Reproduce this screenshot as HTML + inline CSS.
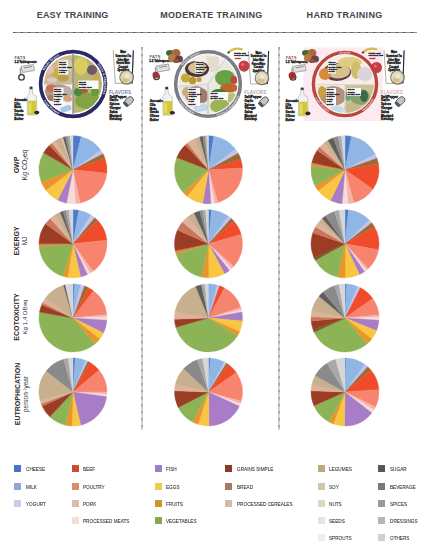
<!DOCTYPE html>
<html><head><meta charset="utf-8">
<style>
html,body{margin:0;padding:0;background:#fff;}
body{width:428px;height:550px;position:relative;overflow:hidden;font-family:"Liberation Sans",sans-serif;}
.hd{position:absolute;top:10px;font-weight:bold;font-size:9px;color:#45454f;letter-spacing:0px;white-space:nowrap;}
.sq{position:absolute;width:7px;height:7px;}
.lt{position:absolute;font-size:5.5px;color:#3a3a3a;white-space:nowrap;line-height:5.5px;transform-origin:0 0;transform:scaleX(0.85);-webkit-text-stroke:0.1px #3a3a3a}
.rl{position:absolute;white-space:nowrap;transform:translate(-50%,-50%) rotate(-90deg);line-height:1;color:#2a2a2a}
.rb{font-weight:bold;font-size:7px;}
.rs{font-size:6.5px;color:#333}
svg{position:absolute;left:0;top:0;}
</style></head><body>
<div class="hd" style="left:36.8px;letter-spacing:0.1px">EASY TRAINING</div>
<div class="hd" style="left:160.2px;letter-spacing:0.33px">MODERATE TRAINING</div>
<div class="hd" style="left:306.6px;letter-spacing:0.3px">HARD TRAINING</div>
<svg width="428" height="550" viewBox="0 0 428 550">
<line x1="13" y1="32.5" x2="417" y2="32.5" stroke="#8e8e8e" stroke-width="1"/><line x1="13" y1="32.5" x2="417" y2="32.5" stroke="#5a5a5a" stroke-width="1" stroke-dasharray="2.5,5"/>
<line x1="142" y1="47" x2="142" y2="430" stroke="#a6a6a6" stroke-width="1"/><line x1="142" y1="47" x2="142" y2="430" stroke="#808080" stroke-width="1" stroke-dasharray="2.5,4.5"/>
<line x1="279" y1="47" x2="279" y2="430" stroke="#a6a6a6" stroke-width="1"/><line x1="279" y1="47" x2="279" y2="430" stroke="#808080" stroke-width="1" stroke-dasharray="2.5,4.5"/>
<rect x="303.5" y="47.5" width="79" height="73.5" fill="#fceaf0"/><defs><clipPath id="pe"><circle cx="73" cy="84" r="29.3"/></clipPath><filter id="bl" x="-20%" y="-20%" width="140%" height="140%"><feGaussianBlur stdDeviation="0.6"/></filter></defs><circle cx="73" cy="84" r="32.4" fill="#fff" stroke="#2a2964" stroke-width="3.7"/><g clip-path="url(#pe)"><g filter="url(#bl)"><path d="M73,84 L44,84 A29,29 0 0 1 73,55 Z" fill="#cdb98c"/><ellipse cx="65" cy="66" rx="8" ry="7" fill="#d9c9a2"/><ellipse cx="57" cy="73" rx="6" ry="5" fill="#c4b248"/><ellipse cx="50" cy="70" rx="4" ry="4" fill="#e6bcb8"/><ellipse cx="63" cy="78" rx="6" ry="3.5" fill="#b8a04a"/><ellipse cx="52" cy="80" rx="5" ry="2.5" fill="#dcc8cc"/><path d="M73,84 L44,84 A29,29 0 0 0 73,113 Z" fill="#f4f2f4"/><ellipse cx="58" cy="93" rx="14" ry="9" fill="#b09a86"/><ellipse cx="51" cy="88" rx="5" ry="4" fill="#c8704c"/><ellipse cx="67" cy="92" rx="5" ry="6" fill="#c0b0a4"/><ellipse cx="68" cy="99" rx="4" ry="3" fill="#e0a080"/><ellipse cx="51" cy="98" rx="4" ry="3" fill="#9a8064"/><path d="M73,55 A29,29 0 0 1 73,113 Z" fill="#b8b670"/><ellipse cx="81" cy="66" rx="7" ry="9" fill="#d8cc62"/><ellipse cx="92" cy="70" rx="5" ry="5" fill="#705868"/><ellipse cx="96" cy="80" rx="4" ry="6" fill="#c8a860"/><ellipse cx="83" cy="91" rx="5" ry="3" fill="#b85a40"/><ellipse cx="88" cy="101" rx="13" ry="8" fill="#82a444"/><ellipse cx="78" cy="92" rx="4" ry="4" fill="#4a8a40"/><ellipse cx="95" cy="92" rx="4" ry="4" fill="#6a9a3a"/></g></g><line x1="73" y1="53" x2="73" y2="115" stroke="#8a8aa4" stroke-width="1.3"/><line x1="44" y1="84" x2="73" y2="84" stroke="#c4b4c8" stroke-width="1"/><g transform="rotate(-20 66 109)"><rect x="61" y="106.5" width="10" height="4.5" rx="1.2" fill="#a4cce8" stroke="#7aa8cc" stroke-width="0.4"/></g><rect x="58.5" y="60.5" width="9.5" height="14.0" fill="#fbfbfb"/><text x="59.1" y="62.7" font-size="2.3" fill="#202020" stroke="#202020" stroke-width="0.3" font-weight="bold" text-anchor="start" letter-spacing="0" font-family="Liberation Sans">Whole</text><text x="59.1" y="65.3" font-size="2.3" fill="#202020" stroke="#202020" stroke-width="0.3" font-weight="bold" text-anchor="start" letter-spacing="0" font-family="Liberation Sans">Grains</text><text x="59.1" y="67.9" font-size="2.3" fill="#202020" stroke="#202020" stroke-width="0.3" font-weight="bold" text-anchor="start" letter-spacing="0" font-family="Liberation Sans">Brown Rice</text><text x="59.1" y="70.5" font-size="2.3" fill="#202020" stroke="#202020" stroke-width="0.3" font-weight="bold" text-anchor="start" letter-spacing="0" font-family="Liberation Sans">Quinoa</text><text x="59.1" y="73.1" font-size="2.3" fill="#202020" stroke="#202020" stroke-width="0.3" font-weight="bold" text-anchor="start" letter-spacing="0" font-family="Liberation Sans">Pasta</text><rect x="53.5" y="87.5" width="10" height="18.5" fill="#fbfbfb"/><text x="54.1" y="89.7" font-size="2.3" fill="#202020" stroke="#202020" stroke-width="0.3" font-weight="bold" text-anchor="start" letter-spacing="0" font-family="Liberation Sans">Whole</text><text x="54.1" y="92.2" font-size="2.3" fill="#202020" stroke="#202020" stroke-width="0.3" font-weight="bold" text-anchor="start" letter-spacing="0" font-family="Liberation Sans">Grains</text><text x="54.1" y="94.7" font-size="2.3" fill="#202020" stroke="#202020" stroke-width="0.3" font-weight="bold" text-anchor="start" letter-spacing="0" font-family="Liberation Sans">Brown Rice</text><text x="54.1" y="97.2" font-size="2.3" fill="#202020" stroke="#202020" stroke-width="0.3" font-weight="bold" text-anchor="start" letter-spacing="0" font-family="Liberation Sans">Quinoa</text><text x="54.1" y="99.7" font-size="2.3" fill="#202020" stroke="#202020" stroke-width="0.3" font-weight="bold" text-anchor="start" letter-spacing="0" font-family="Liberation Sans">Pasta</text><text x="54.1" y="102.2" font-size="2.3" fill="#202020" stroke="#202020" stroke-width="0.3" font-weight="bold" text-anchor="start" letter-spacing="0" font-family="Liberation Sans">Oats</text><text x="54.1" y="104.7" font-size="2.3" fill="#202020" stroke="#202020" stroke-width="0.3" font-weight="bold" text-anchor="start" letter-spacing="0" font-family="Liberation Sans">Barley</text><rect x="78.5" y="80.5" width="20" height="8.5" fill="#fbfbfb"/><text x="79.1" y="82.7" font-size="2.3" fill="#202020" stroke="#202020" stroke-width="0.3" font-weight="bold" text-anchor="start" letter-spacing="0" font-family="Liberation Sans">Whole</text><text x="79.1" y="85.2" font-size="2.3" fill="#202020" stroke="#202020" stroke-width="0.3" font-weight="bold" text-anchor="start" letter-spacing="0" font-family="Liberation Sans">Grains</text><text x="79.1" y="87.7" font-size="2.3" fill="#202020" stroke="#202020" stroke-width="0.3" font-weight="bold" text-anchor="start" letter-spacing="0" font-family="Liberation Sans">Brown Rice</text><path id="rt1" d="M42.75,75.90 A31.314999999999998,31.314999999999998 0 0 1 64.90,53.75" fill="none"/><text font-size="3.1" font-weight="bold" fill="#fff" font-family="Liberation Sans" letter-spacing="0.15"><textPath href="#rt1" startOffset="50%" text-anchor="middle">Whole Grains</textPath></text><path id="rt2" d="M90.96,58.35 A31.314999999999998,31.314999999999998 0 0 1 98.65,101.96" fill="none"/><text font-size="3.1" font-weight="bold" fill="#fff" font-family="Liberation Sans" letter-spacing="0.15"><textPath href="#rt2" startOffset="50%" text-anchor="middle">Fruits &amp; Vegetables</textPath></text><path id="rt3" d="M41.53,95.45 A33.485,33.485 0 0 0 64.33,116.34" fill="none"/><text font-size="3.1" font-weight="bold" fill="#fff" font-family="Liberation Sans" letter-spacing="0.15"><textPath href="#rt3" startOffset="50%" text-anchor="middle">Lean Protein</textPath></text><g transform="translate(0,0)"><text x="14.5" y="58.6" font-size="3.9" fill="#555" font-family="Liberation Sans" font-weight="bold" letter-spacing="0.4">FATS</text><text x="14.4" y="62.7" font-size="2.85" fill="#1a1a1a" stroke="#1a1a1a" stroke-width="0.3" font-weight="bold" text-anchor="start" letter-spacing="0" font-family="Liberation Sans">1-2 Tablespoons</text></g><g transform="translate(0,0)"><path d="M21,66.5 L33.5,64.5 L34.5,70.5 L22.5,72.5 Z" fill="#e2e2e2" stroke="#8a8a8a" stroke-width="0.7"/><path d="M24,68 L32,66.5" stroke="#777" stroke-width="0.8"/><path d="M20.5,68 L20.5,74" stroke="#9a9a9a" stroke-width="1.4"/><circle cx="21.5" cy="77.3" r="2.8" fill="#fff" stroke="#444" stroke-width="1.4"/></g><g transform="translate(0,0)"><rect x="29.6" y="86.6" width="3" height="3" rx="0.8" fill="#3a3a3a"/><path d="M29.7,89.3 L32.5,89.3 L32.8,94 L36.6,96.3 L36.8,115 L27.4,115 L27.3,96.3 L29.3,94 Z" fill="#f2f2f2" stroke="#9a9a9a" stroke-width="0.5"/><rect x="27.7" y="100.8" width="8.8" height="13.8" fill="#d2c93a"/><rect x="28.5" y="103" width="3" height="10" fill="#e2dc66"/><ellipse cx="36.8" cy="112.6" rx="2.6" ry="1.8" fill="#2a2a2a"/></g><g transform="translate(0,0)"><text x="14.3" y="101.0" font-size="3.1" fill="#141414" stroke="#141414" stroke-width="0.3" font-weight="bold" text-anchor="start" letter-spacing="0" font-family="Liberation Sans">Avocado</text><text x="14.3" y="104.9" font-size="3.1" fill="#141414" stroke="#141414" stroke-width="0.3" font-weight="bold" text-anchor="start" letter-spacing="0" font-family="Liberation Sans">Oils</text><text x="14.3" y="108.4" font-size="3.1" fill="#141414" stroke="#141414" stroke-width="0.3" font-weight="bold" text-anchor="start" letter-spacing="0" font-family="Liberation Sans">Nuts</text><text x="14.3" y="112.1" font-size="3.1" fill="#141414" stroke="#141414" stroke-width="0.3" font-weight="bold" text-anchor="start" letter-spacing="0" font-family="Liberation Sans">Seeds</text><text x="14.3" y="115.9" font-size="3.1" fill="#141414" stroke="#141414" stroke-width="0.3" font-weight="bold" text-anchor="start" letter-spacing="0" font-family="Liberation Sans">Olives</text><text x="14.3" y="119.8" font-size="3.1" fill="#141414" stroke="#141414" stroke-width="0.3" font-weight="bold" text-anchor="start" letter-spacing="0" font-family="Liberation Sans">Butter</text></g><g transform="translate(0,0)"><path d="M113.2,50.3 L115.3,83.4 L132,83.4 L133.3,50.3" fill="#fff" stroke="#777" stroke-width="0.6"/><path d="M133.3,50.5 L132.1,83.4" stroke="#2a2a2a" stroke-width="1.1"/><text x="123.2" y="53.2" font-size="2.9" fill="#161616" stroke="#161616" stroke-width="0.35" font-weight="bold" text-anchor="middle" letter-spacing="0" font-family="Liberation Sans" textLength="6" lengthAdjust="spacingAndGlyphs">Water</text><text x="123.2" y="56.9" font-size="2.9" fill="#161616" stroke="#161616" stroke-width="0.35" font-weight="bold" text-anchor="middle" letter-spacing="0" font-family="Liberation Sans" textLength="15.5" lengthAdjust="spacingAndGlyphs">Unsweetened Tea</text><text x="123.2" y="60.6" font-size="2.9" fill="#161616" stroke="#161616" stroke-width="0.35" font-weight="bold" text-anchor="middle" letter-spacing="0" font-family="Liberation Sans" textLength="11.5" lengthAdjust="spacingAndGlyphs">Seltzer Water</text><text x="123.2" y="64.0" font-size="2.9" fill="#161616" stroke="#161616" stroke-width="0.35" font-weight="bold" text-anchor="middle" letter-spacing="0" font-family="Liberation Sans" textLength="13.5" lengthAdjust="spacingAndGlyphs">Flavored Water</text><text x="123.2" y="67.6" font-size="2.9" fill="#161616" stroke="#161616" stroke-width="0.35" font-weight="bold" text-anchor="middle" letter-spacing="0" font-family="Liberation Sans" textLength="9.5" lengthAdjust="spacingAndGlyphs">Coconut</text><text x="123.2" y="71.0" font-size="2.9" fill="#161616" stroke="#161616" stroke-width="0.35" font-weight="bold" text-anchor="middle" letter-spacing="0" font-family="Liberation Sans" textLength="11.5" lengthAdjust="spacingAndGlyphs">Sparkling</text><circle cx="126.7" cy="77.5" r="7.3" fill="#7a7264"/><circle cx="126.5" cy="77.3" r="6.2" fill="#ddd6c0"/><ellipse cx="125.5" cy="80" rx="3.5" ry="2.2" fill="#d6c27a"/><circle cx="127" cy="76" r="2.5" fill="#ece6d4"/></g><g transform="translate(0,0)"><text x="109.1" y="93.7" font-size="4.6" fill="#4a4a8a" font-family="Liberation Sans" letter-spacing="0.15">FLAVORS</text><g transform="rotate(-45 128.5 101.5)"><rect x="123.5" y="98.3" width="10.5" height="6.4" rx="3.2" fill="#c4c4c4" stroke="#444" stroke-width="0.8"/><rect x="123.2" y="98.5" width="3" height="6" rx="1" fill="#555"/></g><text x="109.4" y="97.7" font-size="3.1" fill="#141414" stroke="#141414" stroke-width="0.3" font-weight="bold" text-anchor="start" letter-spacing="0" font-family="Liberation Sans">Salt/Pepper</text><text x="109.4" y="101.4" font-size="3.1" fill="#141414" stroke="#141414" stroke-width="0.3" font-weight="bold" text-anchor="start" letter-spacing="0" font-family="Liberation Sans">Garlic</text><text x="109.4" y="105.3" font-size="3.1" fill="#141414" stroke="#141414" stroke-width="0.3" font-weight="bold" text-anchor="start" letter-spacing="0" font-family="Liberation Sans">Spices</text><text x="109.4" y="109.2" font-size="3.1" fill="#141414" stroke="#141414" stroke-width="0.3" font-weight="bold" text-anchor="start" letter-spacing="0" font-family="Liberation Sans">Vinegar</text><text x="109.4" y="112.9" font-size="3.1" fill="#141414" stroke="#141414" stroke-width="0.3" font-weight="bold" text-anchor="start" letter-spacing="0" font-family="Liberation Sans">Salsa</text><text x="109.4" y="116.7" font-size="3.1" fill="#141414" stroke="#141414" stroke-width="0.3" font-weight="bold" text-anchor="start" letter-spacing="0" font-family="Liberation Sans">Mustard</text><text x="109.4" y="120.0" font-size="3.1" fill="#141414" stroke="#141414" stroke-width="0.3" font-weight="bold" text-anchor="start" letter-spacing="0" font-family="Liberation Sans">Ketchup</text></g><defs><clipPath id="pm"><circle cx="208" cy="84" r="29.5"/></clipPath></defs><circle cx="208" cy="84" r="32.3" fill="#fff" stroke="#7c7b86" stroke-width="3.6"/><g clip-path="url(#pm)"><g filter="url(#bl)"><path d="M208,84L178.11,86.61A30,30 0 0 1 225.21,59.43Z" fill="#f0ece6"/><ellipse cx="197" cy="69" rx="12" ry="8" fill="#4e3044"/><ellipse cx="197.5" cy="68" rx="9.5" ry="6" fill="#d6c48c"/><path d="M206,56 L219,57 L219,70 L210,73 Z" fill="#e4dccb"/><circle cx="185.5" cy="78" r="4.6" fill="#c4ac38"/><circle cx="192.5" cy="80.5" r="3.8" fill="#b89a2c"/><circle cx="199" cy="79.5" r="2.6" fill="#c8963a"/><path d="M208,84L225.21,59.43A30,30 0 0 1 208.00,114.00Z" fill="#e8eadc"/><ellipse cx="225" cy="78" rx="10" ry="8" fill="#6aa044"/><ellipse cx="229" cy="88" rx="9" ry="4.5" fill="#c0642e"/><ellipse cx="234" cy="80" rx="3.5" ry="4" fill="#c04838"/><ellipse cx="219" cy="93" rx="8" ry="4" fill="#3e7a3a"/><ellipse cx="220" cy="106" rx="10" ry="7" fill="#9ab456"/><ellipse cx="232" cy="98" rx="5" ry="5" fill="#b8c078"/><path d="M208,84L208.00,114.00A30,30 0 0 1 178.11,86.61Z" fill="#ece8e8"/><ellipse cx="196" cy="95" rx="11" ry="9" fill="#b0907a"/><ellipse cx="187" cy="92" rx="5" ry="5" fill="#c8b078"/><ellipse cx="203" cy="96" rx="5" ry="7" fill="#a07c6c"/></g></g><line x1="208" y1="84" x2="225.78" y2="58.61" stroke="#d8d8de" stroke-width="1.4"/><line x1="208" y1="84" x2="177.12" y2="86.70" stroke="#d8d8de" stroke-width="1.4"/><line x1="208" y1="84" x2="208.00" y2="115.00" stroke="#c8c8d0" stroke-width="1.4"/><g transform="rotate(-10 201 108)"><rect x="195" y="105.5" width="12" height="5" rx="1.5" fill="#c4dcf2" stroke="#8aa8c8" stroke-width="0.4"/></g><rect x="195.5" y="60.5" width="7" height="13.5" fill="#fbfbfb"/><text x="196.1" y="62.7" font-size="2.3" fill="#202020" stroke="#202020" stroke-width="0.3" font-weight="bold" text-anchor="start" letter-spacing="0" font-family="Liberation Sans">Whole</text><text x="196.1" y="65.2" font-size="2.3" fill="#202020" stroke="#202020" stroke-width="0.3" font-weight="bold" text-anchor="start" letter-spacing="0" font-family="Liberation Sans">Grains</text><text x="196.1" y="67.7" font-size="2.3" fill="#202020" stroke="#202020" stroke-width="0.3" font-weight="bold" text-anchor="start" letter-spacing="0" font-family="Liberation Sans">Brown Rice</text><text x="196.1" y="70.2" font-size="2.3" fill="#202020" stroke="#202020" stroke-width="0.3" font-weight="bold" text-anchor="start" letter-spacing="0" font-family="Liberation Sans">Quinoa</text><text x="196.1" y="72.7" font-size="2.3" fill="#202020" stroke="#202020" stroke-width="0.3" font-weight="bold" text-anchor="start" letter-spacing="0" font-family="Liberation Sans">Pasta</text><rect x="188" y="88" width="12" height="17.8" fill="#fbfbfb"/><text x="188.6" y="90.2" font-size="2.3" fill="#202020" stroke="#202020" stroke-width="0.3" font-weight="bold" text-anchor="start" letter-spacing="0" font-family="Liberation Sans">Whole</text><text x="188.6" y="92.6" font-size="2.3" fill="#202020" stroke="#202020" stroke-width="0.3" font-weight="bold" text-anchor="start" letter-spacing="0" font-family="Liberation Sans">Grains</text><text x="188.6" y="95.0" font-size="2.3" fill="#202020" stroke="#202020" stroke-width="0.3" font-weight="bold" text-anchor="start" letter-spacing="0" font-family="Liberation Sans">Brown Rice</text><text x="188.6" y="97.4" font-size="2.3" fill="#202020" stroke="#202020" stroke-width="0.3" font-weight="bold" text-anchor="start" letter-spacing="0" font-family="Liberation Sans">Quinoa</text><text x="188.6" y="99.8" font-size="2.3" fill="#202020" stroke="#202020" stroke-width="0.3" font-weight="bold" text-anchor="start" letter-spacing="0" font-family="Liberation Sans">Pasta</text><text x="188.6" y="102.2" font-size="2.3" fill="#202020" stroke="#202020" stroke-width="0.3" font-weight="bold" text-anchor="start" letter-spacing="0" font-family="Liberation Sans">Oats</text><text x="188.6" y="104.6" font-size="2.3" fill="#202020" stroke="#202020" stroke-width="0.3" font-weight="bold" text-anchor="start" letter-spacing="0" font-family="Liberation Sans">Barley</text><rect x="210" y="92" width="18" height="7.9" fill="#fbfbfb"/><text x="210.6" y="94.2" font-size="2.3" fill="#202020" stroke="#202020" stroke-width="0.3" font-weight="bold" text-anchor="start" letter-spacing="0" font-family="Liberation Sans">Whole</text><text x="210.6" y="96.5" font-size="2.3" fill="#202020" stroke="#202020" stroke-width="0.3" font-weight="bold" text-anchor="start" letter-spacing="0" font-family="Liberation Sans">Grains</text><text x="210.6" y="98.8" font-size="2.3" fill="#202020" stroke="#202020" stroke-width="0.3" font-weight="bold" text-anchor="start" letter-spacing="0" font-family="Liberation Sans">Brown Rice</text><path id="rt4" d="M180.94,68.38 A31.249999999999996,31.249999999999996 0 0 1 202.57,53.22" fill="none"/><text font-size="3.0" font-weight="bold" fill="#f0f0f4" font-family="Liberation Sans" letter-spacing="0.15"><textPath href="#rt4" startOffset="50%" text-anchor="middle">Whole Grains</textPath></text><path id="rt5" d="M213.79,116.84 A33.349999999999994,33.349999999999994 0 0 0 240.21,92.63" fill="none"/><text font-size="3.0" font-weight="bold" fill="#f0f0f4" font-family="Liberation Sans" letter-spacing="0.15"><textPath href="#rt5" startOffset="50%" text-anchor="middle">Fruits &amp; Vegetables</textPath></text><path id="rt6" d="M176.66,95.41 A33.349999999999994,33.349999999999994 0 0 0 199.37,116.21" fill="none"/><text font-size="3.0" font-weight="bold" fill="#f0f0f4" font-family="Liberation Sans" letter-spacing="0.15"><textPath href="#rt6" startOffset="50%" text-anchor="middle">Lean Protein</textPath></text><g transform="translate(134.9,-0.3)"><text x="14.5" y="58.6" font-size="3.9" fill="#555" font-family="Liberation Sans" font-weight="bold" letter-spacing="0.4">FATS</text><text x="14.4" y="62.7" font-size="2.85" fill="#1a1a1a" stroke="#1a1a1a" stroke-width="0.3" font-weight="bold" text-anchor="start" letter-spacing="0" font-family="Liberation Sans">1-2 Tablespoons</text></g><g transform="translate(135,-0.5)"><path d="M21,66.5 L33.5,64.5 L34.5,70.5 L22.5,72.5 Z" fill="#e2e2e2" stroke="#8a8a8a" stroke-width="0.7"/><path d="M24,68 L32,66.5" stroke="#777" stroke-width="0.8"/><path d="M20.5,68 L20.5,74" stroke="#9a9a9a" stroke-width="1.4"/><circle cx="21.5" cy="77.3" r="2.8" fill="#fff" stroke="#444" stroke-width="1.4"/></g><circle cx="155.8" cy="75" r="3.3" fill="#a83030"/><g transform="translate(167,48)"><ellipse cx="3" cy="5" rx="4" ry="3" fill="#3e6a30"/><ellipse cx="9" cy="5" rx="4.5" ry="4" fill="#a86838"/><ellipse cx="5" cy="10" rx="4" ry="4" fill="#b87a48"/><ellipse cx="12" cy="11" rx="4" ry="3.5" fill="#6a4050"/><ellipse cx="9" cy="13" rx="3" ry="2" fill="#8a5838"/></g><g transform="translate(135.6,0.2)"><rect x="29.6" y="86.6" width="3" height="3" rx="0.8" fill="#3a3a3a"/><path d="M29.7,89.3 L32.5,89.3 L32.8,94 L36.6,96.3 L36.8,115 L27.4,115 L27.3,96.3 L29.3,94 Z" fill="#f2f2f2" stroke="#9a9a9a" stroke-width="0.5"/><rect x="27.7" y="100.8" width="8.8" height="13.8" fill="#d2c93a"/><rect x="28.5" y="103" width="3" height="10" fill="#e2dc66"/><ellipse cx="36.8" cy="112.6" rx="2.6" ry="1.8" fill="#2a2a2a"/></g><g transform="translate(135.4,1.2)"><text x="14.3" y="101.0" font-size="3.1" fill="#141414" stroke="#141414" stroke-width="0.3" font-weight="bold" text-anchor="start" letter-spacing="0" font-family="Liberation Sans">Avocado</text><text x="14.3" y="104.9" font-size="3.1" fill="#141414" stroke="#141414" stroke-width="0.3" font-weight="bold" text-anchor="start" letter-spacing="0" font-family="Liberation Sans">Oils</text><text x="14.3" y="108.4" font-size="3.1" fill="#141414" stroke="#141414" stroke-width="0.3" font-weight="bold" text-anchor="start" letter-spacing="0" font-family="Liberation Sans">Nuts</text><text x="14.3" y="112.1" font-size="3.1" fill="#141414" stroke="#141414" stroke-width="0.3" font-weight="bold" text-anchor="start" letter-spacing="0" font-family="Liberation Sans">Seeds</text><text x="14.3" y="115.9" font-size="3.1" fill="#141414" stroke="#141414" stroke-width="0.3" font-weight="bold" text-anchor="start" letter-spacing="0" font-family="Liberation Sans">Olives</text><text x="14.3" y="119.8" font-size="3.1" fill="#141414" stroke="#141414" stroke-width="0.3" font-weight="bold" text-anchor="start" letter-spacing="0" font-family="Liberation Sans">Butter</text></g><g transform="translate(135.3,0.5)"><path d="M113.2,50.3 L115.3,83.4 L132,83.4 L133.3,50.3" fill="#fff" stroke="#777" stroke-width="0.6"/><path d="M133.3,50.5 L132.1,83.4" stroke="#2a2a2a" stroke-width="1.1"/><text x="123.2" y="53.2" font-size="2.9" fill="#161616" stroke="#161616" stroke-width="0.35" font-weight="bold" text-anchor="middle" letter-spacing="0" font-family="Liberation Sans" textLength="6" lengthAdjust="spacingAndGlyphs">Water</text><text x="123.2" y="56.9" font-size="2.9" fill="#161616" stroke="#161616" stroke-width="0.35" font-weight="bold" text-anchor="middle" letter-spacing="0" font-family="Liberation Sans" textLength="15.5" lengthAdjust="spacingAndGlyphs">Unsweetened Tea</text><text x="123.2" y="60.6" font-size="2.9" fill="#161616" stroke="#161616" stroke-width="0.35" font-weight="bold" text-anchor="middle" letter-spacing="0" font-family="Liberation Sans" textLength="11.5" lengthAdjust="spacingAndGlyphs">Seltzer Water</text><text x="123.2" y="64.0" font-size="2.9" fill="#161616" stroke="#161616" stroke-width="0.35" font-weight="bold" text-anchor="middle" letter-spacing="0" font-family="Liberation Sans" textLength="13.5" lengthAdjust="spacingAndGlyphs">Flavored Water</text><text x="123.2" y="67.6" font-size="2.9" fill="#161616" stroke="#161616" stroke-width="0.35" font-weight="bold" text-anchor="middle" letter-spacing="0" font-family="Liberation Sans" textLength="9.5" lengthAdjust="spacingAndGlyphs">Coconut</text><text x="123.2" y="71.0" font-size="2.9" fill="#161616" stroke="#161616" stroke-width="0.35" font-weight="bold" text-anchor="middle" letter-spacing="0" font-family="Liberation Sans" textLength="11.5" lengthAdjust="spacingAndGlyphs">Sparkling</text><circle cx="126.7" cy="77.5" r="7.3" fill="#7a7264"/><circle cx="126.5" cy="77.3" r="6.2" fill="#ddd6c0"/><ellipse cx="125.5" cy="80" rx="3.5" ry="2.2" fill="#d6c27a"/><circle cx="127" cy="76" r="2.5" fill="#ece6d4"/></g><g transform="translate(135.1,0.3)"><text x="109.1" y="93.7" font-size="4.6" fill="#8a8a8a" font-family="Liberation Sans" letter-spacing="0.15">FLAVORS</text><g transform="rotate(-45 128.5 101.5)"><rect x="123.5" y="98.3" width="10.5" height="6.4" rx="3.2" fill="#c4c4c4" stroke="#444" stroke-width="0.8"/><rect x="123.2" y="98.5" width="3" height="6" rx="1" fill="#555"/></g><text x="109.4" y="97.7" font-size="3.1" fill="#141414" stroke="#141414" stroke-width="0.3" font-weight="bold" text-anchor="start" letter-spacing="0" font-family="Liberation Sans">Salt/Pepper</text><text x="109.4" y="101.4" font-size="3.1" fill="#141414" stroke="#141414" stroke-width="0.3" font-weight="bold" text-anchor="start" letter-spacing="0" font-family="Liberation Sans">Garlic</text><text x="109.4" y="105.3" font-size="3.1" fill="#141414" stroke="#141414" stroke-width="0.3" font-weight="bold" text-anchor="start" letter-spacing="0" font-family="Liberation Sans">Spices</text><text x="109.4" y="109.2" font-size="3.1" fill="#141414" stroke="#141414" stroke-width="0.3" font-weight="bold" text-anchor="start" letter-spacing="0" font-family="Liberation Sans">Vinegar</text><text x="109.4" y="112.9" font-size="3.1" fill="#141414" stroke="#141414" stroke-width="0.3" font-weight="bold" text-anchor="start" letter-spacing="0" font-family="Liberation Sans">Salsa</text><text x="109.4" y="116.7" font-size="3.1" fill="#141414" stroke="#141414" stroke-width="0.3" font-weight="bold" text-anchor="start" letter-spacing="0" font-family="Liberation Sans">Mustard</text><text x="109.4" y="120.0" font-size="3.1" fill="#141414" stroke="#141414" stroke-width="0.3" font-weight="bold" text-anchor="start" letter-spacing="0" font-family="Liberation Sans">Ketchup</text></g><circle cx="244" cy="66" r="5.5" fill="#c83a44"/><circle cx="242.8" cy="64.5" r="1.6" fill="#e07070"/><rect x="243.6" y="70" width="1" height="2.2" fill="#5a8a3a"/><path d="M228.5,52.5 Q234.5,47.0 242.5,49.5" stroke="#d8bc44" stroke-width="2.2" fill="none"/><path d="M227.5,53.0 L229.5,52.0" stroke="#333" stroke-width="1.4"/><text x="234.0" y="53.8" font-size="2.5" fill="#1a1a1a" stroke="#1a1a1a" stroke-width="0.3" font-weight="bold" text-anchor="start" letter-spacing="0" font-family="Liberation Sans">Fruits and</text><text x="234.0" y="56.3" font-size="2.5" fill="#1a1a1a" stroke="#1a1a1a" stroke-width="0.3" font-weight="bold" text-anchor="start" letter-spacing="0" font-family="Liberation Sans">Colored Veg</text><text x="235.0" y="58.8" font-size="2.5" fill="#b01830" stroke="#b01830" stroke-width="0.3" font-weight="bold" text-anchor="start" letter-spacing="0" font-family="Liberation Sans">Daily</text><defs><clipPath id="ph"><circle cx="345" cy="84" r="29"/></clipPath></defs><circle cx="345" cy="84" r="31.6" fill="#fdf4f6" stroke="#b6493c" stroke-width="3.4"/><g clip-path="url(#ph)"><g filter="url(#bl)"><path d="M345,84L315.00,84.00A30,30 0 0 1 375.00,84.00Z" fill="#f6eee6"/><ellipse cx="337" cy="72" rx="14" ry="9" fill="#5a3a52"/><ellipse cx="338" cy="71" rx="12" ry="7.5" fill="#d8c088"/><ellipse cx="325" cy="74" rx="6" ry="6" fill="#d88a3a"/><ellipse cx="350" cy="62" rx="12" ry="5" fill="#e0cc80"/><ellipse cx="356" cy="70" rx="5" ry="9" fill="#cdbe6a"/><ellipse cx="365" cy="74" rx="8" ry="7" fill="#dcd4d8"/><path d="M345,84L345.00,114.00A30,30 0 0 1 315.00,84.00Z" fill="#efe8e6"/><ellipse cx="333" cy="96" rx="13" ry="10" fill="#b49078"/><ellipse cx="322" cy="92" rx="4" ry="6" fill="#c8a040"/><ellipse cx="337" cy="110" rx="7" ry="4" fill="#c0dcec"/><path d="M345,84L375.00,84.00A30,30 0 0 1 345.00,114.00Z" fill="#c8c498"/><ellipse cx="360" cy="97" rx="10" ry="8" fill="#8aa070"/><ellipse cx="364" cy="96" rx="4" ry="6" fill="#3e6a40"/><ellipse cx="352" cy="108" rx="8" ry="5" fill="#c8b888"/><ellipse cx="348" cy="96" rx="3" ry="5" fill="#68a080"/></g></g><line x1="316" y1="84.5" x2="374" y2="84.5" stroke="#e4d4d8" stroke-width="1.2"/><line x1="345" y1="84.5" x2="345" y2="113" stroke="#e4d4d8" stroke-width="1.2"/><rect x="328" y="60.5" width="8" height="13.0" fill="#fbfbfb"/><text x="328.6" y="62.7" font-size="2.3" fill="#202020" stroke="#202020" stroke-width="0.3" font-weight="bold" text-anchor="start" letter-spacing="0" font-family="Liberation Sans">Whole</text><text x="328.6" y="65.1" font-size="2.3" fill="#202020" stroke="#202020" stroke-width="0.3" font-weight="bold" text-anchor="start" letter-spacing="0" font-family="Liberation Sans">Grains</text><text x="328.6" y="67.5" font-size="2.3" fill="#202020" stroke="#202020" stroke-width="0.3" font-weight="bold" text-anchor="start" letter-spacing="0" font-family="Liberation Sans">Brown Rice</text><text x="328.6" y="69.9" font-size="2.3" fill="#202020" stroke="#202020" stroke-width="0.3" font-weight="bold" text-anchor="start" letter-spacing="0" font-family="Liberation Sans">Quinoa</text><text x="328.6" y="72.3" font-size="2.3" fill="#202020" stroke="#202020" stroke-width="0.3" font-weight="bold" text-anchor="start" letter-spacing="0" font-family="Liberation Sans">Pasta</text><rect x="326" y="88" width="10" height="17.8" fill="#fbfbfb"/><text x="326.6" y="90.2" font-size="2.3" fill="#202020" stroke="#202020" stroke-width="0.3" font-weight="bold" text-anchor="start" letter-spacing="0" font-family="Liberation Sans">Whole</text><text x="326.6" y="92.6" font-size="2.3" fill="#202020" stroke="#202020" stroke-width="0.3" font-weight="bold" text-anchor="start" letter-spacing="0" font-family="Liberation Sans">Grains</text><text x="326.6" y="95.0" font-size="2.3" fill="#202020" stroke="#202020" stroke-width="0.3" font-weight="bold" text-anchor="start" letter-spacing="0" font-family="Liberation Sans">Brown Rice</text><text x="326.6" y="97.4" font-size="2.3" fill="#202020" stroke="#202020" stroke-width="0.3" font-weight="bold" text-anchor="start" letter-spacing="0" font-family="Liberation Sans">Quinoa</text><text x="326.6" y="99.8" font-size="2.3" fill="#202020" stroke="#202020" stroke-width="0.3" font-weight="bold" text-anchor="start" letter-spacing="0" font-family="Liberation Sans">Pasta</text><text x="326.6" y="102.2" font-size="2.3" fill="#202020" stroke="#202020" stroke-width="0.3" font-weight="bold" text-anchor="start" letter-spacing="0" font-family="Liberation Sans">Oats</text><text x="326.6" y="104.6" font-size="2.3" fill="#202020" stroke="#202020" stroke-width="0.3" font-weight="bold" text-anchor="start" letter-spacing="0" font-family="Liberation Sans">Barley</text><rect x="347" y="88" width="14" height="7.9" fill="#fbfbfb"/><text x="347.6" y="90.2" font-size="2.3" fill="#202020" stroke="#202020" stroke-width="0.3" font-weight="bold" text-anchor="start" letter-spacing="0" font-family="Liberation Sans">Whole</text><text x="347.6" y="92.5" font-size="2.3" fill="#202020" stroke="#202020" stroke-width="0.3" font-weight="bold" text-anchor="start" letter-spacing="0" font-family="Liberation Sans">Grains</text><text x="347.6" y="94.8" font-size="2.3" fill="#202020" stroke="#202020" stroke-width="0.3" font-weight="bold" text-anchor="start" letter-spacing="0" font-family="Liberation Sans">Brown Rice</text><path id="rt7" d="M334.55,55.29 A30.55,30.55 0 0 1 355.45,55.29" fill="none"/><text font-size="3.0" font-weight="bold" fill="#fbe8e8" font-family="Liberation Sans" letter-spacing="0.15"><textPath href="#rt7" startOffset="50%" text-anchor="middle">Grains</textPath></text><path id="rt8" d="M313.46,92.45 A32.65,32.65 0 0 0 333.83,114.68" fill="none"/><text font-size="3.0" font-weight="bold" fill="#fbe8e8" font-family="Liberation Sans" letter-spacing="0.15"><textPath href="#rt8" startOffset="50%" text-anchor="middle">Lean Protein</textPath></text><path id="rt9" d="M356.17,114.68 A32.65,32.65 0 0 0 376.54,92.45" fill="none"/><text font-size="3.0" font-weight="bold" fill="#fbe8e8" font-family="Liberation Sans" letter-spacing="0.15"><textPath href="#rt9" startOffset="50%" text-anchor="middle">Vegetables</textPath></text><g transform="translate(271.2,0)"><text x="14.5" y="58.6" font-size="3.9" fill="#a04848" font-family="Liberation Sans" font-weight="bold" letter-spacing="0.4">FATS</text><text x="14.4" y="62.7" font-size="2.85" fill="#1a1a1a" stroke="#1a1a1a" stroke-width="0.3" font-weight="bold" text-anchor="start" letter-spacing="0" font-family="Liberation Sans">1-2 Tablespoons</text></g><g transform="translate(271.5,0)"><path d="M21,66.5 L33.5,64.5 L34.5,70.5 L22.5,72.5 Z" fill="#e2e2e2" stroke="#8a8a8a" stroke-width="0.7"/><path d="M24,68 L32,66.5" stroke="#777" stroke-width="0.8"/><path d="M20.5,68 L20.5,74" stroke="#9a9a9a" stroke-width="1.4"/><circle cx="21.5" cy="77.3" r="2.8" fill="#fff" stroke="#444" stroke-width="1.4"/></g><circle cx="292.2" cy="75.5" r="3.6" fill="#b02828"/><g transform="translate(303,48)"><ellipse cx="3" cy="5" rx="4" ry="3" fill="#3e6a30"/><ellipse cx="9" cy="5" rx="4.5" ry="4" fill="#a86838"/><ellipse cx="5" cy="10" rx="4" ry="4" fill="#b87a48"/><ellipse cx="12" cy="11" rx="4" ry="3.5" fill="#6a4050"/><ellipse cx="9" cy="13" rx="3" ry="2" fill="#8a5838"/></g><g transform="translate(271.1,0.8)"><rect x="29.6" y="86.6" width="3" height="3" rx="0.8" fill="#3a3a3a"/><path d="M29.7,89.3 L32.5,89.3 L32.8,94 L36.6,96.3 L36.8,115 L27.4,115 L27.3,96.3 L29.3,94 Z" fill="#f2f2f2" stroke="#9a9a9a" stroke-width="0.5"/><rect x="27.7" y="100.8" width="8.8" height="13.8" fill="#d2c93a"/><rect x="28.5" y="103" width="3" height="10" fill="#e2dc66"/><ellipse cx="36.8" cy="112.6" rx="2.6" ry="1.8" fill="#2a2a2a"/></g><g transform="translate(271.2,0.8)"><text x="14.3" y="101.0" font-size="3.1" fill="#141414" stroke="#141414" stroke-width="0.3" font-weight="bold" text-anchor="start" letter-spacing="0" font-family="Liberation Sans">Avocado</text><text x="14.3" y="104.9" font-size="3.1" fill="#141414" stroke="#141414" stroke-width="0.3" font-weight="bold" text-anchor="start" letter-spacing="0" font-family="Liberation Sans">Oils</text><text x="14.3" y="108.4" font-size="3.1" fill="#141414" stroke="#141414" stroke-width="0.3" font-weight="bold" text-anchor="start" letter-spacing="0" font-family="Liberation Sans">Nuts</text><text x="14.3" y="112.1" font-size="3.1" fill="#141414" stroke="#141414" stroke-width="0.3" font-weight="bold" text-anchor="start" letter-spacing="0" font-family="Liberation Sans">Seeds</text><text x="14.3" y="115.9" font-size="3.1" fill="#141414" stroke="#141414" stroke-width="0.3" font-weight="bold" text-anchor="start" letter-spacing="0" font-family="Liberation Sans">Olives</text><text x="14.3" y="119.8" font-size="3.1" fill="#141414" stroke="#141414" stroke-width="0.3" font-weight="bold" text-anchor="start" letter-spacing="0" font-family="Liberation Sans">Butter</text></g><g transform="translate(270.8,0)"><path d="M113.2,50.3 L115.3,83.4 L132,83.4 L133.3,50.3" fill="#fff" stroke="#777" stroke-width="0.6"/><path d="M133.3,50.5 L132.1,83.4" stroke="#2a2a2a" stroke-width="1.1"/><text x="123.2" y="53.2" font-size="2.9" fill="#161616" stroke="#161616" stroke-width="0.35" font-weight="bold" text-anchor="middle" letter-spacing="0" font-family="Liberation Sans" textLength="6" lengthAdjust="spacingAndGlyphs">Water</text><text x="123.2" y="56.9" font-size="2.9" fill="#161616" stroke="#161616" stroke-width="0.35" font-weight="bold" text-anchor="middle" letter-spacing="0" font-family="Liberation Sans" textLength="15.5" lengthAdjust="spacingAndGlyphs">Unsweetened Tea</text><text x="123.2" y="60.6" font-size="2.9" fill="#161616" stroke="#161616" stroke-width="0.35" font-weight="bold" text-anchor="middle" letter-spacing="0" font-family="Liberation Sans" textLength="11.5" lengthAdjust="spacingAndGlyphs">Seltzer Water</text><text x="123.2" y="64.0" font-size="2.9" fill="#161616" stroke="#161616" stroke-width="0.35" font-weight="bold" text-anchor="middle" letter-spacing="0" font-family="Liberation Sans" textLength="13.5" lengthAdjust="spacingAndGlyphs">Flavored Water</text><text x="123.2" y="67.6" font-size="2.9" fill="#161616" stroke="#161616" stroke-width="0.35" font-weight="bold" text-anchor="middle" letter-spacing="0" font-family="Liberation Sans" textLength="9.5" lengthAdjust="spacingAndGlyphs">Coconut</text><text x="123.2" y="71.0" font-size="2.9" fill="#161616" stroke="#161616" stroke-width="0.35" font-weight="bold" text-anchor="middle" letter-spacing="0" font-family="Liberation Sans" textLength="11.5" lengthAdjust="spacingAndGlyphs">Sparkling</text><circle cx="126.7" cy="77.5" r="7.3" fill="#7a7264"/><circle cx="126.5" cy="77.3" r="6.2" fill="#ddd6c0"/><ellipse cx="125.5" cy="80" rx="3.5" ry="2.2" fill="#d6c27a"/><circle cx="127" cy="76" r="2.5" fill="#ece6d4"/></g><g transform="translate(271.6,0)"><text x="109.1" y="93.7" font-size="4.6" fill="#d88c98" font-family="Liberation Sans" letter-spacing="0.15">FLAVORS</text><g transform="rotate(-45 128.5 101.5)"><rect x="123.5" y="98.3" width="10.5" height="6.4" rx="3.2" fill="#c4c4c4" stroke="#444" stroke-width="0.8"/><rect x="123.2" y="98.5" width="3" height="6" rx="1" fill="#555"/></g><text x="109.4" y="97.7" font-size="3.1" fill="#141414" stroke="#141414" stroke-width="0.3" font-weight="bold" text-anchor="start" letter-spacing="0" font-family="Liberation Sans">Salt/Pepper</text><text x="109.4" y="101.4" font-size="3.1" fill="#141414" stroke="#141414" stroke-width="0.3" font-weight="bold" text-anchor="start" letter-spacing="0" font-family="Liberation Sans">Garlic</text><text x="109.4" y="105.3" font-size="3.1" fill="#141414" stroke="#141414" stroke-width="0.3" font-weight="bold" text-anchor="start" letter-spacing="0" font-family="Liberation Sans">Spices</text><text x="109.4" y="109.2" font-size="3.1" fill="#141414" stroke="#141414" stroke-width="0.3" font-weight="bold" text-anchor="start" letter-spacing="0" font-family="Liberation Sans">Vinegar</text><text x="109.4" y="112.9" font-size="3.1" fill="#141414" stroke="#141414" stroke-width="0.3" font-weight="bold" text-anchor="start" letter-spacing="0" font-family="Liberation Sans">Salsa</text><text x="109.4" y="116.7" font-size="3.1" fill="#141414" stroke="#141414" stroke-width="0.3" font-weight="bold" text-anchor="start" letter-spacing="0" font-family="Liberation Sans">Mustard</text><text x="109.4" y="120.0" font-size="3.1" fill="#141414" stroke="#141414" stroke-width="0.3" font-weight="bold" text-anchor="start" letter-spacing="0" font-family="Liberation Sans">Ketchup</text></g><circle cx="376.5" cy="67.5" r="5.5" fill="#c83a44"/><circle cx="375.3" cy="66.0" r="1.6" fill="#e07070"/><rect x="376.1" y="71.5" width="1" height="2.2" fill="#5a8a3a"/><path d="M363,52.5 Q369,47.0 377,49.5" stroke="#d8bc44" stroke-width="2.2" fill="none"/><path d="M362,53.0 L364,52.0" stroke="#333" stroke-width="1.4"/><text x="368.5" y="53.8" font-size="2.5" fill="#1a1a1a" stroke="#1a1a1a" stroke-width="0.3" font-weight="bold" text-anchor="start" letter-spacing="0" font-family="Liberation Sans">Fruits and</text><text x="368.5" y="56.3" font-size="2.5" fill="#1a1a1a" stroke="#1a1a1a" stroke-width="0.3" font-weight="bold" text-anchor="start" letter-spacing="0" font-family="Liberation Sans">Colored Veg</text><text x="369.5" y="58.8" font-size="2.5" fill="#b01830" stroke="#b01830" stroke-width="0.3" font-weight="bold" text-anchor="start" letter-spacing="0" font-family="Liberation Sans">Daily</text>
<path d="M73,169.8L73.00,135.80A34,34 0 0 1 81.23,136.81Z" fill="#4a7ccc" stroke="#4a7ccc" stroke-width="0.4" stroke-linejoin="round"/>
<path d="M73,169.8L81.23,136.81A34,34 0 0 1 100.85,150.30Z" fill="#8fb6e4" stroke="#8fb6e4" stroke-width="0.4" stroke-linejoin="round"/>
<path d="M73,169.8L100.85,150.30A34,34 0 0 1 103.02,153.84Z" fill="#c6c2ec" stroke="#c6c2ec" stroke-width="0.4" stroke-linejoin="round"/>
<path d="M73,169.8L103.02,153.84A34,34 0 0 1 104.95,158.17Z" fill="#9a6a36" stroke="#9a6a36" stroke-width="0.4" stroke-linejoin="round"/>
<path d="M73,169.8L104.95,158.17A34,34 0 0 1 106.81,173.35Z" fill="#f04c2c" stroke="#f04c2c" stroke-width="0.4" stroke-linejoin="round"/>
<path d="M73,169.8L106.81,173.35A34,34 0 0 1 80.07,203.06Z" fill="#f6846e" stroke="#f6846e" stroke-width="0.4" stroke-linejoin="round"/>
<path d="M73,169.8L80.07,203.06A34,34 0 0 1 75.37,203.72Z" fill="#f8b2ac" stroke="#f8b2ac" stroke-width="0.4" stroke-linejoin="round"/>
<path d="M73,169.8L75.37,203.72A34,34 0 0 1 66.51,203.18Z" fill="#f6dcd6" stroke="#f6dcd6" stroke-width="0.4" stroke-linejoin="round"/>
<path d="M73,169.8L66.51,203.18A34,34 0 0 1 57.56,200.09Z" fill="#a87cc6" stroke="#a87cc6" stroke-width="0.4" stroke-linejoin="round"/>
<path d="M73,169.8L57.56,200.09A34,34 0 0 1 45.85,190.26Z" fill="#f8c642" stroke="#f8c642" stroke-width="0.4" stroke-linejoin="round"/>
<path d="M73,169.8L45.85,190.26A34,34 0 0 1 41.26,181.98Z" fill="#e8962c" stroke="#e8962c" stroke-width="0.4" stroke-linejoin="round"/>
<path d="M73,169.8L41.26,181.98A34,34 0 0 1 43.56,152.80Z" fill="#8cb456" stroke="#8cb456" stroke-width="0.4" stroke-linejoin="round"/>
<path d="M73,169.8L43.56,152.80A34,34 0 0 1 49.38,145.34Z" fill="#9c3c24" stroke="#9c3c24" stroke-width="0.4" stroke-linejoin="round"/>
<path d="M73,169.8L49.38,145.34A34,34 0 0 1 52.07,143.01Z" fill="#c8785a" stroke="#c8785a" stroke-width="0.4" stroke-linejoin="round"/>
<path d="M73,169.8L52.07,143.01A34,34 0 0 1 55.49,140.66Z" fill="#deb29a" stroke="#deb29a" stroke-width="0.4" stroke-linejoin="round"/>
<path d="M73,169.8L55.49,140.66A34,34 0 0 1 61.37,137.85Z" fill="#c8b08e" stroke="#c8b08e" stroke-width="0.4" stroke-linejoin="round"/>
<path d="M73,169.8L61.37,137.85A34,34 0 0 1 63.06,137.29Z" fill="#d8cab0" stroke="#d8cab0" stroke-width="0.4" stroke-linejoin="round"/>
<path d="M73,169.8L63.06,137.29A34,34 0 0 1 65.35,136.67Z" fill="#5e5e5e" stroke="#5e5e5e" stroke-width="0.4" stroke-linejoin="round"/>
<path d="M73,169.8L65.35,136.67A34,34 0 0 1 67.68,136.22Z" fill="#8a8a8a" stroke="#8a8a8a" stroke-width="0.4" stroke-linejoin="round"/>
<path d="M73,169.8L67.68,136.22A34,34 0 0 1 70.04,135.93Z" fill="#a8a8a8" stroke="#a8a8a8" stroke-width="0.4" stroke-linejoin="round"/>
<path d="M73,169.8L70.04,135.93A34,34 0 0 1 73.00,135.80Z" fill="#d6d6d6" stroke="#d6d6d6" stroke-width="0.4" stroke-linejoin="round"/>
<path d="M208.5,169.8L208.50,135.80A34,34 0 0 1 213.82,136.22Z" fill="#4a7ccc" stroke="#4a7ccc" stroke-width="0.4" stroke-linejoin="round"/>
<path d="M208.5,169.8L213.82,136.22A34,34 0 0 1 235.65,149.34Z" fill="#8fb6e4" stroke="#8fb6e4" stroke-width="0.4" stroke-linejoin="round"/>
<path d="M208.5,169.8L235.65,149.34A34,34 0 0 1 238.24,153.32Z" fill="#c6c2ec" stroke="#c6c2ec" stroke-width="0.4" stroke-linejoin="round"/>
<path d="M208.5,169.8L238.24,153.32A34,34 0 0 1 240.84,159.29Z" fill="#9a6a36" stroke="#9a6a36" stroke-width="0.4" stroke-linejoin="round"/>
<path d="M208.5,169.8L240.84,159.29A34,34 0 0 1 242.45,168.02Z" fill="#f04c2c" stroke="#f04c2c" stroke-width="0.4" stroke-linejoin="round"/>
<path d="M208.5,169.8L242.45,168.02A34,34 0 0 1 217.87,202.48Z" fill="#f6846e" stroke="#f6846e" stroke-width="0.4" stroke-linejoin="round"/>
<path d="M208.5,169.8L217.87,202.48A34,34 0 0 1 214.40,203.28Z" fill="#f8b2ac" stroke="#f8b2ac" stroke-width="0.4" stroke-linejoin="round"/>
<path d="M208.5,169.8L214.40,203.28A34,34 0 0 1 210.87,203.72Z" fill="#f6dcd6" stroke="#f6dcd6" stroke-width="0.4" stroke-linejoin="round"/>
<path d="M208.5,169.8L210.87,203.72A34,34 0 0 1 202.60,203.28Z" fill="#a87cc6" stroke="#a87cc6" stroke-width="0.4" stroke-linejoin="round"/>
<path d="M208.5,169.8L202.60,203.28A34,34 0 0 1 187.10,196.22Z" fill="#f8c642" stroke="#f8c642" stroke-width="0.4" stroke-linejoin="round"/>
<path d="M208.5,169.8L187.10,196.22A34,34 0 0 1 183.23,192.55Z" fill="#e8962c" stroke="#e8962c" stroke-width="0.4" stroke-linejoin="round"/>
<path d="M208.5,169.8L183.23,192.55A34,34 0 0 1 176.76,157.62Z" fill="#8cb456" stroke="#8cb456" stroke-width="0.4" stroke-linejoin="round"/>
<path d="M208.5,169.8L176.76,157.62A34,34 0 0 1 185.31,144.93Z" fill="#9c3c24" stroke="#9c3c24" stroke-width="0.4" stroke-linejoin="round"/>
<path d="M208.5,169.8L185.31,144.93A34,34 0 0 1 187.57,143.01Z" fill="#c8785a" stroke="#c8785a" stroke-width="0.4" stroke-linejoin="round"/>
<path d="M208.5,169.8L187.57,143.01A34,34 0 0 1 194.13,138.99Z" fill="#deb29a" stroke="#deb29a" stroke-width="0.4" stroke-linejoin="round"/>
<path d="M208.5,169.8L194.13,138.99A34,34 0 0 1 199.70,136.96Z" fill="#c8b08e" stroke="#c8b08e" stroke-width="0.4" stroke-linejoin="round"/>
<path d="M208.5,169.8L199.70,136.96A34,34 0 0 1 202.60,136.32Z" fill="#5e5e5e" stroke="#5e5e5e" stroke-width="0.4" stroke-linejoin="round"/>
<path d="M208.5,169.8L202.60,136.32A34,34 0 0 1 204.95,135.99Z" fill="#8a8a8a" stroke="#8a8a8a" stroke-width="0.4" stroke-linejoin="round"/>
<path d="M208.5,169.8L204.95,135.99A34,34 0 0 1 206.72,135.85Z" fill="#a8a8a8" stroke="#a8a8a8" stroke-width="0.4" stroke-linejoin="round"/>
<path d="M208.5,169.8L206.72,135.85A34,34 0 0 1 208.50,135.80Z" fill="#d6d6d6" stroke="#d6d6d6" stroke-width="0.4" stroke-linejoin="round"/>
<path d="M345,169.8L345.00,135.80A34,34 0 0 1 351.49,136.42Z" fill="#4a7ccc" stroke="#4a7ccc" stroke-width="0.4" stroke-linejoin="round"/>
<path d="M345,169.8L351.49,136.42A34,34 0 0 1 375.29,154.36Z" fill="#8fb6e4" stroke="#8fb6e4" stroke-width="0.4" stroke-linejoin="round"/>
<path d="M345,169.8L375.29,154.36A34,34 0 0 1 376.95,158.17Z" fill="#c6c2ec" stroke="#c6c2ec" stroke-width="0.4" stroke-linejoin="round"/>
<path d="M345,169.8L376.95,158.17A34,34 0 0 1 378.48,163.90Z" fill="#9a6a36" stroke="#9a6a36" stroke-width="0.4" stroke-linejoin="round"/>
<path d="M345,169.8L378.48,163.90A34,34 0 0 1 372.85,189.30Z" fill="#f04c2c" stroke="#f04c2c" stroke-width="0.4" stroke-linejoin="round"/>
<path d="M345,169.8L372.85,189.30A34,34 0 0 1 353.80,202.64Z" fill="#f6846e" stroke="#f6846e" stroke-width="0.4" stroke-linejoin="round"/>
<path d="M345,169.8L353.80,202.64A34,34 0 0 1 347.96,203.67Z" fill="#f8b2ac" stroke="#f8b2ac" stroke-width="0.4" stroke-linejoin="round"/>
<path d="M345,169.8L347.96,203.67A34,34 0 0 1 342.04,203.67Z" fill="#f6dcd6" stroke="#f6dcd6" stroke-width="0.4" stroke-linejoin="round"/>
<path d="M345,169.8L342.04,203.67A34,34 0 0 1 330.63,200.61Z" fill="#a87cc6" stroke="#a87cc6" stroke-width="0.4" stroke-linejoin="round"/>
<path d="M345,169.8L330.63,200.61A34,34 0 0 1 318.21,190.73Z" fill="#f8c642" stroke="#f8c642" stroke-width="0.4" stroke-linejoin="round"/>
<path d="M345,169.8L318.21,190.73A34,34 0 0 1 314.98,185.76Z" fill="#e8962c" stroke="#e8962c" stroke-width="0.4" stroke-linejoin="round"/>
<path d="M345,169.8L314.98,185.76A34,34 0 0 1 311.19,166.25Z" fill="#8cb456" stroke="#8cb456" stroke-width="0.4" stroke-linejoin="round"/>
<path d="M345,169.8L311.19,166.25A34,34 0 0 1 311.74,162.73Z" fill="#d89048" stroke="#d89048" stroke-width="0.4" stroke-linejoin="round"/>
<path d="M345,169.8L311.74,162.73A34,34 0 0 1 317.15,150.30Z" fill="#9c3c24" stroke="#9c3c24" stroke-width="0.4" stroke-linejoin="round"/>
<path d="M345,169.8L317.15,150.30A34,34 0 0 1 319.73,147.05Z" fill="#c8785a" stroke="#c8785a" stroke-width="0.4" stroke-linejoin="round"/>
<path d="M345,169.8L319.73,147.05A34,34 0 0 1 324.07,143.01Z" fill="#deb29a" stroke="#deb29a" stroke-width="0.4" stroke-linejoin="round"/>
<path d="M345,169.8L324.07,143.01A34,34 0 0 1 328.00,140.36Z" fill="#c8b08e" stroke="#c8b08e" stroke-width="0.4" stroke-linejoin="round"/>
<path d="M345,169.8L328.00,140.36A34,34 0 0 1 333.37,137.85Z" fill="#5e5e5e" stroke="#5e5e5e" stroke-width="0.4" stroke-linejoin="round"/>
<path d="M345,169.8L333.37,137.85A34,34 0 0 1 337.93,136.54Z" fill="#8a8a8a" stroke="#8a8a8a" stroke-width="0.4" stroke-linejoin="round"/>
<path d="M345,169.8L337.93,136.54A34,34 0 0 1 341.45,135.99Z" fill="#a8a8a8" stroke="#a8a8a8" stroke-width="0.4" stroke-linejoin="round"/>
<path d="M345,169.8L341.45,135.99A34,34 0 0 1 345.00,135.80Z" fill="#d6d6d6" stroke="#d6d6d6" stroke-width="0.4" stroke-linejoin="round"/>
<path d="M73,243.8L73.00,209.80A34,34 0 0 1 78.90,210.32Z" fill="#4a7ccc" stroke="#4a7ccc" stroke-width="0.4" stroke-linejoin="round"/>
<path d="M73,243.8L78.90,210.32A34,34 0 0 1 91.02,214.97Z" fill="#8fb6e4" stroke="#8fb6e4" stroke-width="0.4" stroke-linejoin="round"/>
<path d="M73,243.8L91.02,214.97A34,34 0 0 1 94.85,217.75Z" fill="#c6c2ec" stroke="#c6c2ec" stroke-width="0.4" stroke-linejoin="round"/>
<path d="M73,243.8L94.85,217.75A34,34 0 0 1 97.87,220.61Z" fill="#9a6a36" stroke="#9a6a36" stroke-width="0.4" stroke-linejoin="round"/>
<path d="M73,243.8L97.87,220.61A34,34 0 0 1 106.81,240.25Z" fill="#f04c2c" stroke="#f04c2c" stroke-width="0.4" stroke-linejoin="round"/>
<path d="M73,243.8L106.81,240.25A34,34 0 0 1 92.98,271.31Z" fill="#f6846e" stroke="#f6846e" stroke-width="0.4" stroke-linejoin="round"/>
<path d="M73,243.8L92.98,271.31A34,34 0 0 1 90.00,273.24Z" fill="#f8b2ac" stroke="#f8b2ac" stroke-width="0.4" stroke-linejoin="round"/>
<path d="M73,243.8L90.00,273.24A34,34 0 0 1 87.37,274.61Z" fill="#f6dcd6" stroke="#f6dcd6" stroke-width="0.4" stroke-linejoin="round"/>
<path d="M73,243.8L87.37,274.61A34,34 0 0 1 80.65,276.93Z" fill="#a87cc6" stroke="#a87cc6" stroke-width="0.4" stroke-linejoin="round"/>
<path d="M73,243.8L80.65,276.93A34,34 0 0 1 67.68,277.38Z" fill="#f8c642" stroke="#f8c642" stroke-width="0.4" stroke-linejoin="round"/>
<path d="M73,243.8L67.68,277.38A34,34 0 0 1 63.06,276.31Z" fill="#e8962c" stroke="#e8962c" stroke-width="0.4" stroke-linejoin="round"/>
<path d="M73,243.8L63.06,276.31A34,34 0 0 1 39.13,246.76Z" fill="#8cb456" stroke="#8cb456" stroke-width="0.4" stroke-linejoin="round"/>
<path d="M73,243.8L39.13,246.76A34,34 0 0 1 39.00,243.80Z" fill="#d89048" stroke="#d89048" stroke-width="0.4" stroke-linejoin="round"/>
<path d="M73,243.8L39.00,243.80A34,34 0 0 1 45.49,223.82Z" fill="#9c3c24" stroke="#9c3c24" stroke-width="0.4" stroke-linejoin="round"/>
<path d="M73,243.8L45.49,223.82A34,34 0 0 1 50.25,218.53Z" fill="#c8785a" stroke="#c8785a" stroke-width="0.4" stroke-linejoin="round"/>
<path d="M73,243.8L50.25,218.53A34,34 0 0 1 54.98,214.97Z" fill="#deb29a" stroke="#deb29a" stroke-width="0.4" stroke-linejoin="round"/>
<path d="M73,243.8L54.98,214.97A34,34 0 0 1 60.26,212.28Z" fill="#c8b08e" stroke="#c8b08e" stroke-width="0.4" stroke-linejoin="round"/>
<path d="M73,243.8L60.26,212.28A34,34 0 0 1 63.06,211.29Z" fill="#5e5e5e" stroke="#5e5e5e" stroke-width="0.4" stroke-linejoin="round"/>
<path d="M73,243.8L63.06,211.29A34,34 0 0 1 65.93,210.54Z" fill="#8a8a8a" stroke="#8a8a8a" stroke-width="0.4" stroke-linejoin="round"/>
<path d="M73,243.8L65.93,210.54A34,34 0 0 1 68.86,210.05Z" fill="#a8a8a8" stroke="#a8a8a8" stroke-width="0.4" stroke-linejoin="round"/>
<path d="M73,243.8L68.86,210.05A34,34 0 0 1 73.00,209.80Z" fill="#d6d6d6" stroke="#d6d6d6" stroke-width="0.4" stroke-linejoin="round"/>
<path d="M208.5,243.8L208.50,209.80A34,34 0 0 1 211.46,209.93Z" fill="#4a7ccc" stroke="#4a7ccc" stroke-width="0.4" stroke-linejoin="round"/>
<path d="M208.5,243.8L211.46,209.93A34,34 0 0 1 228.48,216.29Z" fill="#8fb6e4" stroke="#8fb6e4" stroke-width="0.4" stroke-linejoin="round"/>
<path d="M208.5,243.8L228.48,216.29A34,34 0 0 1 231.25,218.53Z" fill="#c6c2ec" stroke="#c6c2ec" stroke-width="0.4" stroke-linejoin="round"/>
<path d="M208.5,243.8L231.25,218.53A34,34 0 0 1 233.77,221.05Z" fill="#9a6a36" stroke="#9a6a36" stroke-width="0.4" stroke-linejoin="round"/>
<path d="M208.5,243.8L233.77,221.05A34,34 0 0 1 241.18,234.43Z" fill="#f04c2c" stroke="#f04c2c" stroke-width="0.4" stroke-linejoin="round"/>
<path d="M208.5,243.8L241.18,234.43A34,34 0 0 1 233.77,266.55Z" fill="#f6846e" stroke="#f6846e" stroke-width="0.4" stroke-linejoin="round"/>
<path d="M208.5,243.8L233.77,266.55A34,34 0 0 1 231.69,268.67Z" fill="#f8b2ac" stroke="#f8b2ac" stroke-width="0.4" stroke-linejoin="round"/>
<path d="M208.5,243.8L231.69,268.67A34,34 0 0 1 229.43,270.59Z" fill="#f6dcd6" stroke="#f6dcd6" stroke-width="0.4" stroke-linejoin="round"/>
<path d="M208.5,243.8L229.43,270.59A34,34 0 0 1 224.46,273.82Z" fill="#a87cc6" stroke="#a87cc6" stroke-width="0.4" stroke-linejoin="round"/>
<path d="M208.5,243.8L224.46,273.82A34,34 0 0 1 208.50,277.80Z" fill="#f8c642" stroke="#f8c642" stroke-width="0.4" stroke-linejoin="round"/>
<path d="M208.5,243.8L208.50,277.80A34,34 0 0 1 201.43,277.06Z" fill="#e8962c" stroke="#e8962c" stroke-width="0.4" stroke-linejoin="round"/>
<path d="M208.5,243.8L201.43,277.06A34,34 0 0 1 176.16,254.31Z" fill="#8cb456" stroke="#8cb456" stroke-width="0.4" stroke-linejoin="round"/>
<path d="M208.5,243.8L176.16,254.31A34,34 0 0 1 175.24,250.87Z" fill="#d89048" stroke="#d89048" stroke-width="0.4" stroke-linejoin="round"/>
<path d="M208.5,243.8L175.24,250.87A34,34 0 0 1 177.44,229.97Z" fill="#9c3c24" stroke="#9c3c24" stroke-width="0.4" stroke-linejoin="round"/>
<path d="M208.5,243.8L177.44,229.97A34,34 0 0 1 182.45,221.95Z" fill="#c8785a" stroke="#c8785a" stroke-width="0.4" stroke-linejoin="round"/>
<path d="M208.5,243.8L182.45,221.95A34,34 0 0 1 187.57,217.01Z" fill="#deb29a" stroke="#deb29a" stroke-width="0.4" stroke-linejoin="round"/>
<path d="M208.5,243.8L187.57,217.01A34,34 0 0 1 194.13,212.99Z" fill="#c8b08e" stroke="#c8b08e" stroke-width="0.4" stroke-linejoin="round"/>
<path d="M208.5,243.8L194.13,212.99A34,34 0 0 1 199.70,210.96Z" fill="#5e5e5e" stroke="#5e5e5e" stroke-width="0.4" stroke-linejoin="round"/>
<path d="M208.5,243.8L199.70,210.96A34,34 0 0 1 202.60,210.32Z" fill="#8a8a8a" stroke="#8a8a8a" stroke-width="0.4" stroke-linejoin="round"/>
<path d="M208.5,243.8L202.60,210.32A34,34 0 0 1 205.54,209.93Z" fill="#a8a8a8" stroke="#a8a8a8" stroke-width="0.4" stroke-linejoin="round"/>
<path d="M208.5,243.8L205.54,209.93A34,34 0 0 1 208.50,209.80Z" fill="#d6d6d6" stroke="#d6d6d6" stroke-width="0.4" stroke-linejoin="round"/>
<path d="M345,243.8L345.00,209.80A34,34 0 0 1 348.55,209.99Z" fill="#4a7ccc" stroke="#4a7ccc" stroke-width="0.4" stroke-linejoin="round"/>
<path d="M345,243.8L348.55,209.99A34,34 0 0 1 369.46,220.18Z" fill="#8fb6e4" stroke="#8fb6e4" stroke-width="0.4" stroke-linejoin="round"/>
<path d="M345,243.8L369.46,220.18A34,34 0 0 1 371.79,222.87Z" fill="#c6c2ec" stroke="#c6c2ec" stroke-width="0.4" stroke-linejoin="round"/>
<path d="M345,243.8L371.79,222.87A34,34 0 0 1 374.44,226.80Z" fill="#9a6a36" stroke="#9a6a36" stroke-width="0.4" stroke-linejoin="round"/>
<path d="M345,243.8L374.44,226.80A34,34 0 0 1 378.48,249.70Z" fill="#f04c2c" stroke="#f04c2c" stroke-width="0.4" stroke-linejoin="round"/>
<path d="M345,243.8L378.48,249.70A34,34 0 0 1 368.19,268.67Z" fill="#f6846e" stroke="#f6846e" stroke-width="0.4" stroke-linejoin="round"/>
<path d="M345,243.8L368.19,268.67A34,34 0 0 1 366.40,270.22Z" fill="#f8b2ac" stroke="#f8b2ac" stroke-width="0.4" stroke-linejoin="round"/>
<path d="M345,243.8L366.40,270.22A34,34 0 0 1 364.50,271.65Z" fill="#f6dcd6" stroke="#f6dcd6" stroke-width="0.4" stroke-linejoin="round"/>
<path d="M345,243.8L364.50,271.65A34,34 0 0 1 359.37,274.61Z" fill="#a87cc6" stroke="#a87cc6" stroke-width="0.4" stroke-linejoin="round"/>
<path d="M345,243.8L359.37,274.61A34,34 0 0 1 345.00,277.80Z" fill="#f8c642" stroke="#f8c642" stroke-width="0.4" stroke-linejoin="round"/>
<path d="M345,243.8L345.00,277.80A34,34 0 0 1 337.35,276.93Z" fill="#e8962c" stroke="#e8962c" stroke-width="0.4" stroke-linejoin="round"/>
<path d="M345,243.8L337.35,276.93A34,34 0 0 1 315.26,260.28Z" fill="#8cb456" stroke="#8cb456" stroke-width="0.4" stroke-linejoin="round"/>
<path d="M345,243.8L315.26,260.28A34,34 0 0 1 313.94,257.63Z" fill="#7a5a2a" stroke="#7a5a2a" stroke-width="0.4" stroke-linejoin="round"/>
<path d="M345,243.8L313.94,257.63A34,34 0 0 1 312.85,232.73Z" fill="#9c3c24" stroke="#9c3c24" stroke-width="0.4" stroke-linejoin="round"/>
<path d="M345,243.8L312.85,232.73A34,34 0 0 1 315.56,226.80Z" fill="#c8785a" stroke="#c8785a" stroke-width="0.4" stroke-linejoin="round"/>
<path d="M345,243.8L315.56,226.80A34,34 0 0 1 318.95,221.95Z" fill="#deb29a" stroke="#deb29a" stroke-width="0.4" stroke-linejoin="round"/>
<path d="M345,243.8L318.95,221.95A34,34 0 0 1 322.25,218.53Z" fill="#c8b08e" stroke="#c8b08e" stroke-width="0.4" stroke-linejoin="round"/>
<path d="M345,243.8L322.25,218.53A34,34 0 0 1 325.50,215.95Z" fill="#5e5e5e" stroke="#5e5e5e" stroke-width="0.4" stroke-linejoin="round"/>
<path d="M345,243.8L325.50,215.95A34,34 0 0 1 334.49,211.46Z" fill="#8a8a8a" stroke="#8a8a8a" stroke-width="0.4" stroke-linejoin="round"/>
<path d="M345,243.8L334.49,211.46A34,34 0 0 1 339.10,210.32Z" fill="#a8a8a8" stroke="#a8a8a8" stroke-width="0.4" stroke-linejoin="round"/>
<path d="M345,243.8L339.10,210.32A34,34 0 0 1 345.00,209.80Z" fill="#d6d6d6" stroke="#d6d6d6" stroke-width="0.4" stroke-linejoin="round"/>
<path d="M73,318L73.00,284.00A34,34 0 0 1 74.78,284.05Z" fill="#4a7ccc" stroke="#4a7ccc" stroke-width="0.4" stroke-linejoin="round"/>
<path d="M73,318L74.78,284.05A34,34 0 0 1 80.65,284.87Z" fill="#8fb6e4" stroke="#8fb6e4" stroke-width="0.4" stroke-linejoin="round"/>
<path d="M73,318L80.65,284.87A34,34 0 0 1 84.63,286.05Z" fill="#c6c2ec" stroke="#c6c2ec" stroke-width="0.4" stroke-linejoin="round"/>
<path d="M73,318L84.63,286.05A34,34 0 0 1 88.44,287.71Z" fill="#9a6a36" stroke="#9a6a36" stroke-width="0.4" stroke-linejoin="round"/>
<path d="M73,318L88.44,287.71A34,34 0 0 1 93.46,290.85Z" fill="#f04c2c" stroke="#f04c2c" stroke-width="0.4" stroke-linejoin="round"/>
<path d="M73,318L93.46,290.85A34,34 0 0 1 106.81,314.45Z" fill="#f6846e" stroke="#f6846e" stroke-width="0.4" stroke-linejoin="round"/>
<path d="M73,318L106.81,314.45A34,34 0 0 1 106.98,316.81Z" fill="#f8b2ac" stroke="#f8b2ac" stroke-width="0.4" stroke-linejoin="round"/>
<path d="M73,318L106.98,316.81A34,34 0 0 1 106.92,320.37Z" fill="#f6dcd6" stroke="#f6dcd6" stroke-width="0.4" stroke-linejoin="round"/>
<path d="M73,318L106.92,320.37A34,34 0 0 1 103.56,332.90Z" fill="#a87cc6" stroke="#a87cc6" stroke-width="0.4" stroke-linejoin="round"/>
<path d="M73,318L103.56,332.90A34,34 0 0 1 99.79,338.93Z" fill="#f8c642" stroke="#f8c642" stroke-width="0.4" stroke-linejoin="round"/>
<path d="M73,318L99.79,338.93A34,34 0 0 1 94.85,344.05Z" fill="#e8962c" stroke="#e8962c" stroke-width="0.4" stroke-linejoin="round"/>
<path d="M73,318L94.85,344.05A34,34 0 0 1 39.52,312.10Z" fill="#8cb456" stroke="#8cb456" stroke-width="0.4" stroke-linejoin="round"/>
<path d="M73,318L39.52,312.10A34,34 0 0 1 41.70,304.72Z" fill="#9c3c24" stroke="#9c3c24" stroke-width="0.4" stroke-linejoin="round"/>
<path d="M73,318L41.70,304.72A34,34 0 0 1 42.71,302.56Z" fill="#c8785a" stroke="#c8785a" stroke-width="0.4" stroke-linejoin="round"/>
<path d="M73,318L42.71,302.56A34,34 0 0 1 45.15,298.50Z" fill="#deb29a" stroke="#deb29a" stroke-width="0.4" stroke-linejoin="round"/>
<path d="M73,318L45.15,298.50A34,34 0 0 1 63.63,285.32Z" fill="#c8b08e" stroke="#c8b08e" stroke-width="0.4" stroke-linejoin="round"/>
<path d="M73,318L63.63,285.32A34,34 0 0 1 65.35,284.87Z" fill="#5e5e5e" stroke="#5e5e5e" stroke-width="0.4" stroke-linejoin="round"/>
<path d="M73,318L65.35,284.87A34,34 0 0 1 73.00,284.00Z" fill="#d6d6d6" stroke="#d6d6d6" stroke-width="0.4" stroke-linejoin="round"/>
<path d="M208.5,318L208.50,284.00A34,34 0 0 1 209.69,284.02Z" fill="#4a7ccc" stroke="#4a7ccc" stroke-width="0.4" stroke-linejoin="round"/>
<path d="M208.5,318L209.69,284.02A34,34 0 0 1 217.30,285.16Z" fill="#8fb6e4" stroke="#8fb6e4" stroke-width="0.4" stroke-linejoin="round"/>
<path d="M208.5,318L217.30,285.16A34,34 0 0 1 219.57,285.85Z" fill="#c6c2ec" stroke="#c6c2ec" stroke-width="0.4" stroke-linejoin="round"/>
<path d="M208.5,318L219.57,285.85A34,34 0 0 1 224.46,287.98Z" fill="#f04c2c" stroke="#f04c2c" stroke-width="0.4" stroke-linejoin="round"/>
<path d="M208.5,318L224.46,287.98A34,34 0 0 1 240.84,307.49Z" fill="#f6846e" stroke="#f6846e" stroke-width="0.4" stroke-linejoin="round"/>
<path d="M208.5,318L240.84,307.49A34,34 0 0 1 241.49,309.77Z" fill="#f8b2ac" stroke="#f8b2ac" stroke-width="0.4" stroke-linejoin="round"/>
<path d="M208.5,318L241.49,309.77A34,34 0 0 1 241.98,312.10Z" fill="#f6dcd6" stroke="#f6dcd6" stroke-width="0.4" stroke-linejoin="round"/>
<path d="M208.5,318L241.98,312.10A34,34 0 0 1 242.37,320.96Z" fill="#a87cc6" stroke="#a87cc6" stroke-width="0.4" stroke-linejoin="round"/>
<path d="M208.5,318L242.37,320.96A34,34 0 0 1 239.56,331.83Z" fill="#f8c642" stroke="#f8c642" stroke-width="0.4" stroke-linejoin="round"/>
<path d="M208.5,318L239.56,331.83A34,34 0 0 1 237.33,336.02Z" fill="#e8962c" stroke="#e8962c" stroke-width="0.4" stroke-linejoin="round"/>
<path d="M208.5,318L237.33,336.02A34,34 0 0 1 175.82,327.37Z" fill="#8cb456" stroke="#8cb456" stroke-width="0.4" stroke-linejoin="round"/>
<path d="M208.5,318L175.82,327.37A34,34 0 0 1 174.52,319.19Z" fill="#9c3c24" stroke="#9c3c24" stroke-width="0.4" stroke-linejoin="round"/>
<path d="M208.5,318L174.52,319.19A34,34 0 0 1 175.02,312.10Z" fill="#deb29a" stroke="#deb29a" stroke-width="0.4" stroke-linejoin="round"/>
<path d="M208.5,318L175.02,312.10A34,34 0 0 1 195.76,286.48Z" fill="#c8b08e" stroke="#c8b08e" stroke-width="0.4" stroke-linejoin="round"/>
<path d="M208.5,318L195.76,286.48A34,34 0 0 1 201.43,284.74Z" fill="#5e5e5e" stroke="#5e5e5e" stroke-width="0.4" stroke-linejoin="round"/>
<path d="M208.5,318L201.43,284.74A34,34 0 0 1 204.95,284.19Z" fill="#a8a8a8" stroke="#a8a8a8" stroke-width="0.4" stroke-linejoin="round"/>
<path d="M208.5,318L204.95,284.19A34,34 0 0 1 208.50,284.00Z" fill="#d6d6d6" stroke="#d6d6d6" stroke-width="0.4" stroke-linejoin="round"/>
<path d="M345,318L345.00,284.00A34,34 0 0 1 346.78,284.05Z" fill="#4a7ccc" stroke="#4a7ccc" stroke-width="0.4" stroke-linejoin="round"/>
<path d="M345,318L346.78,284.05A34,34 0 0 1 357.74,286.48Z" fill="#8fb6e4" stroke="#8fb6e4" stroke-width="0.4" stroke-linejoin="round"/>
<path d="M345,318L357.74,286.48A34,34 0 0 1 360.44,287.71Z" fill="#c6c2ec" stroke="#c6c2ec" stroke-width="0.4" stroke-linejoin="round"/>
<path d="M345,318L360.44,287.71A34,34 0 0 1 372.85,298.50Z" fill="#f04c2c" stroke="#f04c2c" stroke-width="0.4" stroke-linejoin="round"/>
<path d="M345,318L372.85,298.50A34,34 0 0 1 378.87,315.04Z" fill="#f6846e" stroke="#f6846e" stroke-width="0.4" stroke-linejoin="round"/>
<path d="M345,318L378.87,315.04A34,34 0 0 1 378.99,317.41Z" fill="#f8b2ac" stroke="#f8b2ac" stroke-width="0.4" stroke-linejoin="round"/>
<path d="M345,318L378.99,317.41A34,34 0 0 1 378.92,320.37Z" fill="#f6dcd6" stroke="#f6dcd6" stroke-width="0.4" stroke-linejoin="round"/>
<path d="M345,318L378.92,320.37A34,34 0 0 1 376.52,330.74Z" fill="#a87cc6" stroke="#a87cc6" stroke-width="0.4" stroke-linejoin="round"/>
<path d="M345,318L376.52,330.74A34,34 0 0 1 371.79,338.93Z" fill="#f8c642" stroke="#f8c642" stroke-width="0.4" stroke-linejoin="round"/>
<path d="M345,318L371.79,338.93A34,34 0 0 1 366.85,344.05Z" fill="#e8962c" stroke="#e8962c" stroke-width="0.4" stroke-linejoin="round"/>
<path d="M345,318L366.85,344.05A34,34 0 0 1 314.19,332.37Z" fill="#8cb456" stroke="#8cb456" stroke-width="0.4" stroke-linejoin="round"/>
<path d="M345,318L314.19,332.37A34,34 0 0 1 313.05,329.63Z" fill="#7a5a2a" stroke="#7a5a2a" stroke-width="0.4" stroke-linejoin="round"/>
<path d="M345,318L313.05,329.63A34,34 0 0 1 311.13,320.96Z" fill="#9c3c24" stroke="#9c3c24" stroke-width="0.4" stroke-linejoin="round"/>
<path d="M345,318L311.13,320.96A34,34 0 0 1 311.02,316.81Z" fill="#c8785a" stroke="#c8785a" stroke-width="0.4" stroke-linejoin="round"/>
<path d="M345,318L311.02,316.81A34,34 0 0 1 311.74,310.93Z" fill="#deb29a" stroke="#deb29a" stroke-width="0.4" stroke-linejoin="round"/>
<path d="M345,318L311.74,310.93A34,34 0 0 1 318.95,296.15Z" fill="#c8b08e" stroke="#c8b08e" stroke-width="0.4" stroke-linejoin="round"/>
<path d="M345,318L318.95,296.15A34,34 0 0 1 323.15,291.95Z" fill="#5e5e5e" stroke="#5e5e5e" stroke-width="0.4" stroke-linejoin="round"/>
<path d="M345,318L323.15,291.95A34,34 0 0 1 334.49,285.66Z" fill="#8a8a8a" stroke="#8a8a8a" stroke-width="0.4" stroke-linejoin="round"/>
<path d="M345,318L334.49,285.66A34,34 0 0 1 339.10,284.52Z" fill="#a8a8a8" stroke="#a8a8a8" stroke-width="0.4" stroke-linejoin="round"/>
<path d="M345,318L339.10,284.52A34,34 0 0 1 345.00,284.00Z" fill="#d6d6d6" stroke="#d6d6d6" stroke-width="0.4" stroke-linejoin="round"/>
<path d="M73,392L73.00,358.00A34,34 0 0 1 75.37,358.08Z" fill="#4a7ccc" stroke="#4a7ccc" stroke-width="0.4" stroke-linejoin="round"/>
<path d="M73,392L75.37,358.08A34,34 0 0 1 85.74,360.48Z" fill="#8fb6e4" stroke="#8fb6e4" stroke-width="0.4" stroke-linejoin="round"/>
<path d="M73,392L85.74,360.48A34,34 0 0 1 87.90,361.44Z" fill="#c6c2ec" stroke="#c6c2ec" stroke-width="0.4" stroke-linejoin="round"/>
<path d="M73,392L87.90,361.44A34,34 0 0 1 90.00,362.56Z" fill="#9a6a36" stroke="#9a6a36" stroke-width="0.4" stroke-linejoin="round"/>
<path d="M73,392L90.00,362.56A34,34 0 0 1 99.05,370.15Z" fill="#f04c2c" stroke="#f04c2c" stroke-width="0.4" stroke-linejoin="round"/>
<path d="M73,392L99.05,370.15A34,34 0 0 1 107.00,392.00Z" fill="#f6846e" stroke="#f6846e" stroke-width="0.4" stroke-linejoin="round"/>
<path d="M73,392L107.00,392.00A34,34 0 0 1 106.92,394.37Z" fill="#f8b2ac" stroke="#f8b2ac" stroke-width="0.4" stroke-linejoin="round"/>
<path d="M73,392L106.92,394.37A34,34 0 0 1 106.67,396.73Z" fill="#f6dcd6" stroke="#f6dcd6" stroke-width="0.4" stroke-linejoin="round"/>
<path d="M73,392L106.67,396.73A34,34 0 0 1 80.65,425.13Z" fill="#a87cc6" stroke="#a87cc6" stroke-width="0.4" stroke-linejoin="round"/>
<path d="M73,392L80.65,425.13A34,34 0 0 1 71.81,425.98Z" fill="#f8c642" stroke="#f8c642" stroke-width="0.4" stroke-linejoin="round"/>
<path d="M73,392L71.81,425.98A34,34 0 0 1 65.35,425.13Z" fill="#e8962c" stroke="#e8962c" stroke-width="0.4" stroke-linejoin="round"/>
<path d="M73,392L65.35,425.13A34,34 0 0 1 49.81,416.87Z" fill="#8cb456" stroke="#8cb456" stroke-width="0.4" stroke-linejoin="round"/>
<path d="M73,392L49.81,416.87A34,34 0 0 1 42.19,406.37Z" fill="#9c3c24" stroke="#9c3c24" stroke-width="0.4" stroke-linejoin="round"/>
<path d="M73,392L42.19,406.37A34,34 0 0 1 41.05,403.63Z" fill="#c8785a" stroke="#c8785a" stroke-width="0.4" stroke-linejoin="round"/>
<path d="M73,392L41.05,403.63A34,34 0 0 1 40.01,400.23Z" fill="#deb29a" stroke="#deb29a" stroke-width="0.4" stroke-linejoin="round"/>
<path d="M73,392L40.01,400.23A34,34 0 0 1 46.21,371.07Z" fill="#c8b08e" stroke="#c8b08e" stroke-width="0.4" stroke-linejoin="round"/>
<path d="M73,392L46.21,371.07A34,34 0 0 1 63.63,359.32Z" fill="#8a8a8a" stroke="#8a8a8a" stroke-width="0.4" stroke-linejoin="round"/>
<path d="M73,392L63.63,359.32A34,34 0 0 1 68.27,358.33Z" fill="#a8a8a8" stroke="#a8a8a8" stroke-width="0.4" stroke-linejoin="round"/>
<path d="M73,392L68.27,358.33A34,34 0 0 1 73.00,358.00Z" fill="#d6d6d6" stroke="#d6d6d6" stroke-width="0.4" stroke-linejoin="round"/>
<path d="M208.5,392L208.50,358.00A34,34 0 0 1 210.28,358.05Z" fill="#4a7ccc" stroke="#4a7ccc" stroke-width="0.4" stroke-linejoin="round"/>
<path d="M208.5,392L210.28,358.05A34,34 0 0 1 224.46,361.98Z" fill="#8fb6e4" stroke="#8fb6e4" stroke-width="0.4" stroke-linejoin="round"/>
<path d="M208.5,392L224.46,361.98A34,34 0 0 1 226.52,363.17Z" fill="#c6c2ec" stroke="#c6c2ec" stroke-width="0.4" stroke-linejoin="round"/>
<path d="M208.5,392L226.52,363.17A34,34 0 0 1 228.48,364.49Z" fill="#9a6a36" stroke="#9a6a36" stroke-width="0.4" stroke-linejoin="round"/>
<path d="M208.5,392L228.48,364.49A34,34 0 0 1 236.35,372.50Z" fill="#f04c2c" stroke="#f04c2c" stroke-width="0.4" stroke-linejoin="round"/>
<path d="M208.5,392L236.35,372.50A34,34 0 0 1 241.18,401.37Z" fill="#f6846e" stroke="#f6846e" stroke-width="0.4" stroke-linejoin="round"/>
<path d="M208.5,392L241.18,401.37A34,34 0 0 1 240.45,403.63Z" fill="#f8b2ac" stroke="#f8b2ac" stroke-width="0.4" stroke-linejoin="round"/>
<path d="M208.5,392L240.45,403.63A34,34 0 0 1 239.31,406.37Z" fill="#f6dcd6" stroke="#f6dcd6" stroke-width="0.4" stroke-linejoin="round"/>
<path d="M208.5,392L239.31,406.37A34,34 0 0 1 209.09,425.99Z" fill="#a87cc6" stroke="#a87cc6" stroke-width="0.4" stroke-linejoin="round"/>
<path d="M208.5,392L209.09,425.99A34,34 0 0 1 197.99,424.34Z" fill="#f8c642" stroke="#f8c642" stroke-width="0.4" stroke-linejoin="round"/>
<path d="M208.5,392L197.99,424.34A34,34 0 0 1 192.54,422.02Z" fill="#e8962c" stroke="#e8962c" stroke-width="0.4" stroke-linejoin="round"/>
<path d="M208.5,392L192.54,422.02A34,34 0 0 1 178.21,407.44Z" fill="#8cb456" stroke="#8cb456" stroke-width="0.4" stroke-linejoin="round"/>
<path d="M208.5,392L178.21,407.44A34,34 0 0 1 174.52,390.81Z" fill="#9c3c24" stroke="#9c3c24" stroke-width="0.4" stroke-linejoin="round"/>
<path d="M208.5,392L174.52,390.81A34,34 0 0 1 175.37,384.35Z" fill="#deb29a" stroke="#deb29a" stroke-width="0.4" stroke-linejoin="round"/>
<path d="M208.5,392L175.37,384.35A34,34 0 0 1 183.63,368.81Z" fill="#c8b08e" stroke="#c8b08e" stroke-width="0.4" stroke-linejoin="round"/>
<path d="M208.5,392L183.63,368.81A34,34 0 0 1 197.43,359.85Z" fill="#8a8a8a" stroke="#8a8a8a" stroke-width="0.4" stroke-linejoin="round"/>
<path d="M208.5,392L197.43,359.85A34,34 0 0 1 202.60,358.52Z" fill="#a8a8a8" stroke="#a8a8a8" stroke-width="0.4" stroke-linejoin="round"/>
<path d="M208.5,392L202.60,358.52A34,34 0 0 1 208.50,358.00Z" fill="#d6d6d6" stroke="#d6d6d6" stroke-width="0.4" stroke-linejoin="round"/>
<path d="M345,392L345.00,358.00A34,34 0 0 1 346.19,358.02Z" fill="#4a7ccc" stroke="#4a7ccc" stroke-width="0.4" stroke-linejoin="round"/>
<path d="M345,392L346.19,358.02A34,34 0 0 1 364.98,364.49Z" fill="#8fb6e4" stroke="#8fb6e4" stroke-width="0.4" stroke-linejoin="round"/>
<path d="M345,392L364.98,364.49A34,34 0 0 1 367.75,366.73Z" fill="#c6c2ec" stroke="#c6c2ec" stroke-width="0.4" stroke-linejoin="round"/>
<path d="M345,392L367.75,366.73A34,34 0 0 1 371.05,370.15Z" fill="#9a6a36" stroke="#9a6a36" stroke-width="0.4" stroke-linejoin="round"/>
<path d="M345,392L371.05,370.15A34,34 0 0 1 378.92,389.63Z" fill="#f04c2c" stroke="#f04c2c" stroke-width="0.4" stroke-linejoin="round"/>
<path d="M345,392L378.92,389.63A34,34 0 0 1 375.56,406.90Z" fill="#f6846e" stroke="#f6846e" stroke-width="0.4" stroke-linejoin="round"/>
<path d="M345,392L375.56,406.90A34,34 0 0 1 373.83,410.02Z" fill="#f8b2ac" stroke="#f8b2ac" stroke-width="0.4" stroke-linejoin="round"/>
<path d="M345,392L373.83,410.02A34,34 0 0 1 371.79,412.93Z" fill="#f6dcd6" stroke="#f6dcd6" stroke-width="0.4" stroke-linejoin="round"/>
<path d="M345,392L371.79,412.93A34,34 0 0 1 344.41,425.99Z" fill="#a87cc6" stroke="#a87cc6" stroke-width="0.4" stroke-linejoin="round"/>
<path d="M345,392L344.41,425.99A34,34 0 0 1 333.37,423.95Z" fill="#f8c642" stroke="#f8c642" stroke-width="0.4" stroke-linejoin="round"/>
<path d="M345,392L333.37,423.95A34,34 0 0 1 329.04,422.02Z" fill="#e8962c" stroke="#e8962c" stroke-width="0.4" stroke-linejoin="round"/>
<path d="M345,392L329.04,422.02A34,34 0 0 1 313.94,405.83Z" fill="#8cb456" stroke="#8cb456" stroke-width="0.4" stroke-linejoin="round"/>
<path d="M345,392L313.94,405.83A34,34 0 0 1 311.02,390.81Z" fill="#9c3c24" stroke="#9c3c24" stroke-width="0.4" stroke-linejoin="round"/>
<path d="M345,392L311.02,390.81A34,34 0 0 1 311.74,384.93Z" fill="#deb29a" stroke="#deb29a" stroke-width="0.4" stroke-linejoin="round"/>
<path d="M345,392L311.74,384.93A34,34 0 0 1 315.26,375.52Z" fill="#c8b08e" stroke="#c8b08e" stroke-width="0.4" stroke-linejoin="round"/>
<path d="M345,392L315.26,375.52A34,34 0 0 1 326.98,363.17Z" fill="#8a8a8a" stroke="#8a8a8a" stroke-width="0.4" stroke-linejoin="round"/>
<path d="M345,392L326.98,363.17A34,34 0 0 1 335.63,359.32Z" fill="#a8a8a8" stroke="#a8a8a8" stroke-width="0.4" stroke-linejoin="round"/>
<path d="M345,392L335.63,359.32A34,34 0 0 1 345.00,358.00Z" fill="#d6d6d6" stroke="#d6d6d6" stroke-width="0.4" stroke-linejoin="round"/>
</svg>
<div class="rl rb" style="left:15.8px;top:165.4px">GWP</div>
<div class="rl rs" style="font-size:6.9px;left:26.0px;top:165px">Kg CO<sub style="font-size:4.5px;vertical-align:-1px">2</sub>eq</div>
<div class="rl rb" style="left:16.2px;top:240.7px">EXERGY</div>
<div class="rl rs" style="left:25.2px;top:240.6px">MJ</div>
<div class="rl rb" style="left:16.3px;top:316.7px">ECOTOXICITY</div>
<div class="rl rs" style="font-size:6.2px;left:24.5px;top:316.5px">Kg 1,4 DBeq</div>
<div class="rl rb" style="left:16.9px;top:393.5px">EUTROPHICATION</div>
<div class="rl rs" style="left:25.5px;top:393.5px">person<sup style="font-size:4px;vertical-align:2px">-1</sup>year</div>
<div class="sq" style="left:14px;top:465px;background:#4b74c6"></div>
<div class="lt" style="left:25.8px;top:467.2px">CHEESE</div>
<div class="sq" style="left:14px;top:482.5px;background:#8ea6dc"></div>
<div class="lt" style="left:25.8px;top:484.7px">MILK</div>
<div class="sq" style="left:14px;top:499.7px;background:#c8cbea"></div>
<div class="lt" style="left:25.8px;top:501.9px">YOGURT</div>
<div class="sq" style="left:71.5px;top:465px;background:#cc4a30"></div>
<div class="lt" style="left:83.3px;top:467.2px">BEEF</div>
<div class="sq" style="left:71.5px;top:482.5px;background:#d98e70"></div>
<div class="lt" style="left:83.3px;top:484.7px">POULTRY</div>
<div class="sq" style="left:71.5px;top:499.7px;background:#dcbca8"></div>
<div class="lt" style="left:83.3px;top:501.9px">PORK</div>
<div class="sq" style="left:71.5px;top:517px;background:#eee0d6"></div>
<div class="lt" style="left:83.3px;top:519.2px">PROCESSED MEATS</div>
<div class="sq" style="left:154.5px;top:465px;background:#9c80c6"></div>
<div class="lt" style="left:166.3px;top:467.2px">FISH</div>
<div class="sq" style="left:154.5px;top:482.5px;background:#e6d04c"></div>
<div class="lt" style="left:166.3px;top:484.7px">EGGS</div>
<div class="sq" style="left:154.5px;top:499.7px;background:#c8982c"></div>
<div class="lt" style="left:166.3px;top:501.9px">FRUITS</div>
<div class="sq" style="left:154.5px;top:517px;background:#8aa84c"></div>
<div class="lt" style="left:166.3px;top:519.2px">VEGETABLES</div>
<div class="sq" style="left:225px;top:465px;background:#8a3a22"></div>
<div class="lt" style="left:236.8px;top:467.2px">GRAINS SIMPLE</div>
<div class="sq" style="left:225px;top:482.5px;background:#a87862"></div>
<div class="lt" style="left:236.8px;top:484.7px">BREAD</div>
<div class="sq" style="left:225px;top:499.7px;background:#d4b8aa"></div>
<div class="lt" style="left:236.8px;top:501.9px">PROCESSED CEREALES</div>
<div class="sq" style="left:317.5px;top:465px;background:#b8aa7c"></div>
<div class="lt" style="left:329.3px;top:467.2px">LEGUMES</div>
<div class="sq" style="left:317.5px;top:482.5px;background:#cec6a4"></div>
<div class="lt" style="left:329.3px;top:484.7px">SOY</div>
<div class="sq" style="left:317.5px;top:499.7px;background:#dcd8c2"></div>
<div class="lt" style="left:329.3px;top:501.9px">NUTS</div>
<div class="sq" style="left:317.5px;top:517px;background:#e8e6da"></div>
<div class="lt" style="left:329.3px;top:519.2px">SEEDS</div>
<div class="sq" style="left:317.5px;top:534px;background:#efeee8"></div>
<div class="lt" style="left:329.3px;top:536.2px">SPROUTS</div>
<div class="sq" style="left:378px;top:465px;background:#575757"></div>
<div class="lt" style="left:389.8px;top:467.2px">SUGAR</div>
<div class="sq" style="left:378px;top:482.5px;background:#7a7a7a"></div>
<div class="lt" style="left:389.8px;top:484.7px">BEVERAGE</div>
<div class="sq" style="left:378px;top:499.7px;background:#9a9a9a"></div>
<div class="lt" style="left:389.8px;top:501.9px">SPICES</div>
<div class="sq" style="left:378px;top:517px;background:#b6b6b6"></div>
<div class="lt" style="left:389.8px;top:519.2px">DRESSINGS</div>
<div class="sq" style="left:378px;top:534px;background:#d0d0d0"></div>
<div class="lt" style="left:389.8px;top:536.2px">OTHERS</div>
</body></html>
